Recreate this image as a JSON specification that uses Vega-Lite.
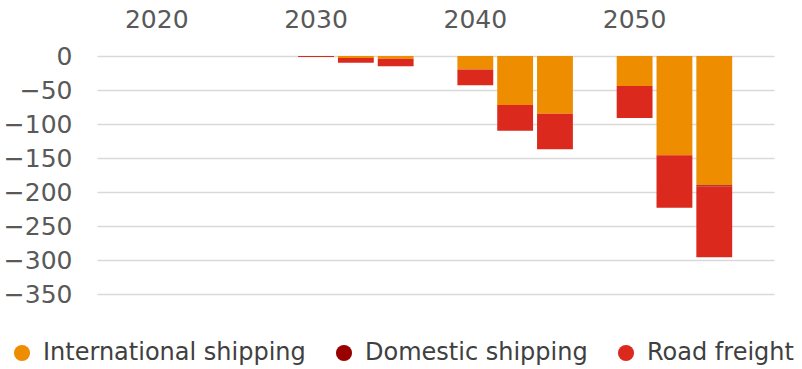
{
  "$schema": "https://vega.github.io/schema/vega-lite/v6.json",
  "autosize": "none",
  "width": 677,
  "height": 238,
  "padding": {"left": 97, "top": 56, "right": 28, "bottom": 75},
  "background": "white",
  "data": {
    "values": [
      {"slot": "2020", "series": "International shipping", "ord": 1, "value": 0},
      {"slot": "2020", "series": "Domestic shipping", "ord": 2, "value": 0},
      {"slot": "2020", "series": "Road freight", "ord": 3, "value": 0},
      {"slot": "2020b", "series": "International shipping", "ord": 1, "value": 0},
      {"slot": "2020b", "series": "Domestic shipping", "ord": 2, "value": 0},
      {"slot": "2020b", "series": "Road freight", "ord": 3, "value": 0},
      {"slot": "2020c", "series": "International shipping", "ord": 1, "value": 0},
      {"slot": "2020c", "series": "Domestic shipping", "ord": 2, "value": 0},
      {"slot": "2020c", "series": "Road freight", "ord": 3, "value": 0},
      {"slot": "2030", "series": "International shipping", "ord": 1, "value": 0},
      {"slot": "2030", "series": "Domestic shipping", "ord": 2, "value": 0},
      {"slot": "2030", "series": "Road freight", "ord": 3, "value": -1.5},
      {"slot": "2030b", "series": "International shipping", "ord": 1, "value": -3},
      {"slot": "2030b", "series": "Domestic shipping", "ord": 2, "value": 0},
      {"slot": "2030b", "series": "Road freight", "ord": 3, "value": -7},
      {"slot": "2030c", "series": "International shipping", "ord": 1, "value": -4},
      {"slot": "2030c", "series": "Domestic shipping", "ord": 2, "value": 0},
      {"slot": "2030c", "series": "Road freight", "ord": 3, "value": -11},
      {"slot": "2040", "series": "International shipping", "ord": 1, "value": -20},
      {"slot": "2040", "series": "Domestic shipping", "ord": 2, "value": 0},
      {"slot": "2040", "series": "Road freight", "ord": 3, "value": -23},
      {"slot": "2040b", "series": "International shipping", "ord": 1, "value": -72},
      {"slot": "2040b", "series": "Domestic shipping", "ord": 2, "value": 0},
      {"slot": "2040b", "series": "Road freight", "ord": 3, "value": -38},
      {"slot": "2040c", "series": "International shipping", "ord": 1, "value": -85},
      {"slot": "2040c", "series": "Domestic shipping", "ord": 2, "value": 0},
      {"slot": "2040c", "series": "Road freight", "ord": 3, "value": -52},
      {"slot": "2050", "series": "International shipping", "ord": 1, "value": -44},
      {"slot": "2050", "series": "Domestic shipping", "ord": 2, "value": 0},
      {"slot": "2050", "series": "Road freight", "ord": 3, "value": -47},
      {"slot": "2050b", "series": "International shipping", "ord": 1, "value": -146},
      {"slot": "2050b", "series": "Domestic shipping", "ord": 2, "value": 0},
      {"slot": "2050b", "series": "Road freight", "ord": 3, "value": -77},
      {"slot": "2050c", "series": "International shipping", "ord": 1, "value": -190},
      {"slot": "2050c", "series": "Domestic shipping", "ord": 2, "value": -2},
      {"slot": "2050c", "series": "Road freight", "ord": 3, "value": -104}
    ]
  },
  "mark": {"type": "bar"},
  "encoding": {
    "x": {
      "field": "slot",
      "type": "nominal",
      "scale": {
        "domain": ["s0", "2020", "2020b", "2020c", "g1", "2030", "2030b", "2030c", "g2", "2040", "2040b", "2040c", "g3", "2050", "2050b", "2050c", "g4"],
        "paddingInner": 0.1,
        "paddingOuter": 0.05
      },
      "axis": {
        "orient": "top",
        "title": null,
        "domain": false,
        "ticks": false,
        "labelAngle": 0,
        "labelExpr": "length(datum.label) == 4 ? datum.label : ''",
        "labelFont": "DejaVu Sans",
        "labelFontSize": 25,
        "labelColor": "#595959",
        "labelPadding": 24
      }
    },
    "y": {
      "field": "value",
      "type": "quantitative",
      "stack": "zero",
      "scale": {"domain": [-350, 0], "nice": false},
      "axis": {
        "title": null,
        "values": [0, -50, -100, -150, -200, -250, -300, -350],
        "domain": false,
        "ticks": false,
        "labelFont": "DejaVu Sans",
        "labelFontSize": 25,
        "labelColor": "#595959",
        "labelPadding": 25,
        "gridColor": "#d9d9d9",
        "gridWidth": 1.5
      }
    },
    "color": {
      "field": "series",
      "type": "nominal",
      "scale": {
        "domain": ["International shipping", "Domestic shipping", "Road freight"],
        "range": ["#EE8D00", "#990000", "#DC291E"]
      },
      "legend": {
        "title": null,
        "orient": "none",
        "legendX": -87,
        "legendY": 285,
        "direction": "horizontal",
        "columns": 3,
        "gridAlign": "none",
        "columnPadding": 26,
        "symbolType": "circle",
        "symbolSize": 260,
        "symbolStrokeWidth": 0,
        "labelOffset": 9,
        "labelFont": "DejaVu Sans",
        "labelFontSize": 24,
        "labelColor": "#404040",
        "labelLimit": 400
      }
    },
    "order": {"field": "ord", "type": "quantitative"}
  },
  "config": {
    "view": {"stroke": null}
  }
}
